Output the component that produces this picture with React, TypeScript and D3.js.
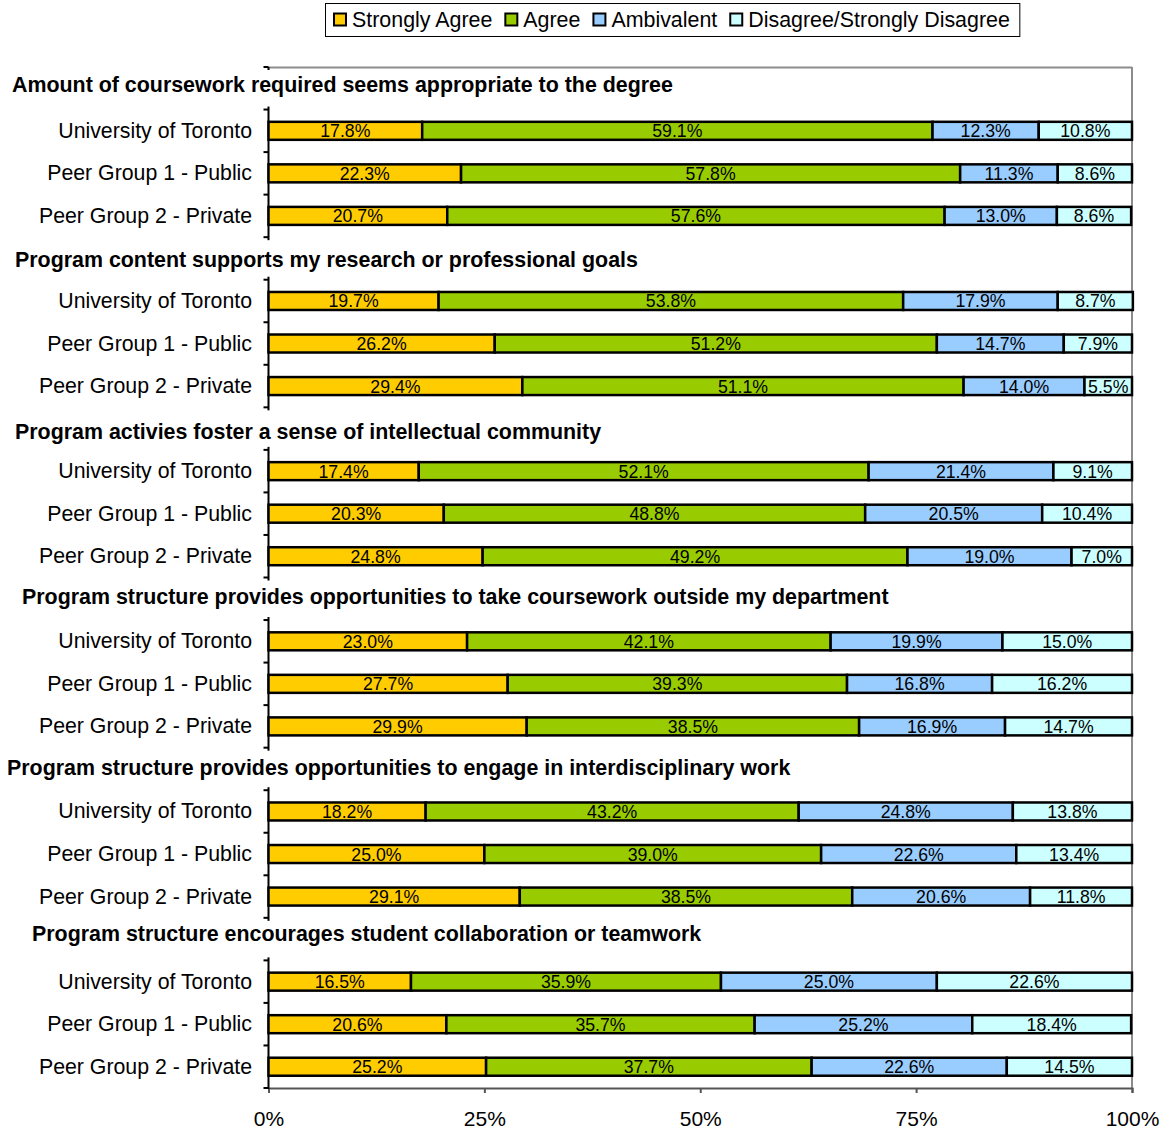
import React, { useEffect, useRef } from "react";
import * as d3 from "d3";

const seriesNames = ["Strongly Agree", "Agree", "Ambivalent", "Disagree/Strongly Disagree"];
const seriesColors = ["#FFCC00", "#99CC00", "#99CCFF", "#CCFFFF"];
const groupLabels = ["University of Toronto", "Peer Group 1 - Public", "Peer Group 2 - Private"];
const questions = [
  "Amount of coursework required seems appropriate to the degree",
  "Program content supports my research or professional goals",
  "Program activies foster a sense of intellectual community",
  "Program structure provides opportunities to take coursework outside my department",
  "Program structure provides opportunities to engage in interdisciplinary work",
  "Program structure encourages student collaboration or teamwork",
];
const q1 = [[17.8, 59.1, 12.3, 10.8], [22.3, 57.8, 11.3, 8.6], [20.7, 57.6, 13.0, 8.6]];
const q2 = [[19.7, 53.8, 17.9, 8.7], [26.2, 51.2, 14.7, 7.9], [29.4, 51.1, 14.0, 5.5]];
const q3 = [[17.4, 52.1, 21.4, 9.1], [20.3, 48.8, 20.5, 10.4], [24.8, 49.2, 19.0, 7.0]];
const q4 = [[23.0, 42.1, 19.9, 15.0], [27.7, 39.3, 16.8, 16.2], [29.9, 38.5, 16.9, 14.7]];
const q5 = [[18.2, 43.2, 24.8, 13.8], [25.0, 39.0, 22.6, 13.4], [29.1, 38.5, 20.6, 11.8]];
const q6 = [[16.5, 35.9, 25.0, 22.6], [20.6, 35.7, 25.2, 18.4], [25.2, 37.7, 22.6, 14.5]];
const questionValues = [q1, q2, q3, q4, q5, q6];
const xTicks = [0, 25, 50, 75, 100];

// layout of the title text boxes (x position, vertical nudge)
const titleLayout = [
  [12, -3], [15, 1.5], [15, 3], [22, -2], [7, -1], [32, -5],
];

const W = 1164;
const H = 1131;
const FONT = "'Liberation Sans', Arial, sans-serif";

export default function App() {
  const ref = useRef<SVGSVGElement>(null);

  useEffect(() => {
    const svg = d3.select(ref.current);
    svg.selectAll("*").remove();

    const x = d3.scaleLinear().domain([0, 100]).range([268.5, 1132]);
    const rowIds: string[] = [];
    questions.forEach((_, qi) => {
      rowIds.push(`t${qi}`);
      groupLabels.forEach((_, gi) => rowIds.push(`r${qi}_${gi}`));
    });
    const y = d3.scaleBand<string>().domain(rowIds).range([67, 1088]).padding(0);
    const step = y.step();
    const barH = 18;

    // plot border (top/right)
    svg.append("line").attr("x1", x(0)).attr("x2", x(100)).attr("y1", 67.5).attr("y2", 67.5)
      .attr("stroke", "#8c8c8c").attr("stroke-width", 2);
    svg.append("line").attr("x1", x(100)).attr("x2", x(100)).attr("y1", 67).attr("y2", 1088)
      .attr("stroke", "#8c8c8c").attr("stroke-width", 2);

    // bottom axis
    const xAxis = d3.axisBottom(x).tickValues(xTicks).tickFormat((d) => `${d}%`).tickSize(5).tickPadding(18);
    const gx = svg.append("g").attr("transform", `translate(0,1088)`).call(xAxis);
    gx.select(".domain").attr("stroke", "#555").attr("stroke-width", 2);
    gx.selectAll(".tick line").attr("stroke", "#555").attr("stroke-width", 2);
    gx.selectAll(".tick text").attr("font-family", FONT).attr("font-size", 21).attr("fill", "#000");

    // left axis
    svg.append("line").attr("x1", x(0)).attr("x2", x(0)).attr("y1", 67).attr("y2", 1089)
      .attr("stroke", "#000").attr("stroke-width", 2);
    for (let i = 0; i <= rowIds.length; i++) {
      const yy = 67 + i * step;
      svg.append("line").attr("x1", x(0) - 5).attr("x2", x(0)).attr("y1", yy).attr("y2", yy)
        .attr("stroke", "#000").attr("stroke-width", 2);
    }

    // bars
    questions.forEach((q, qi) => {
      questionValues[qi].forEach((vals, gi) => {
        const id = `r${qi}_${gi}`;
        const cy = (y(id) as number) + step / 2;
        svg.append("text").attr("x", 252).attr("y", cy).attr("text-anchor", "end")
          .attr("dominant-baseline", "central").attr("font-family", FONT).attr("font-size", 21.3)
          .attr("fill", "#000").text(groupLabels[gi]);
        let acc = 0;
        vals.forEach((v, si) => {
          const x0 = x(acc);
          const x1 = x(acc + v);
          acc += v;
          svg.append("rect").attr("x", x0).attr("y", cy - barH / 2).attr("width", x1 - x0).attr("height", barH)
            .attr("fill", seriesColors[si]).attr("stroke", "#000").attr("stroke-width", 2.5);
          svg.append("text").attr("x", (x0 + x1) / 2).attr("y", cy + 0.5).attr("text-anchor", "middle")
            .attr("dominant-baseline", "central").attr("font-family", FONT).attr("font-size", 17.7)
            .attr("fill", "#000").text(`${v.toFixed(1)}%`);
        });
      });
      // title
      const ty = (y(`t${qi}`) as number);
      const [tx, tdy] = titleLayout[qi];
      const g = svg.append("g");
      const bg = g.append("rect").attr("fill", "#fff");
      const t = g.append("text").attr("x", tx).attr("y", ty + step / 2 + tdy).attr("dominant-baseline", "central")
        .attr("font-family", FONT).attr("font-size", 21.4).attr("font-weight", "bold").attr("fill", "#000").text(q);
      const w = (t.node() as SVGTextElement).getComputedTextLength();
      bg.attr("x", tx - 2).attr("y", ty + 3).attr("width", w + 4).attr("height", step - 6);
    });

    // legend
    const lg = svg.append("g");
    const box = lg.append("rect").attr("y", 3.5).attr("height", 33).attr("fill", "#fff")
      .attr("stroke", "#000").attr("stroke-width", 1);
    let lx = 334;
    seriesNames.forEach((name, si) => {
      lg.append("rect").attr("x", lx).attr("y", 13.5).attr("width", 12).attr("height", 12)
        .attr("fill", seriesColors[si]).attr("stroke", "#000").attr("stroke-width", 2);
      const tt = lg.append("text").attr("x", lx + 18).attr("y", 20).attr("dominant-baseline", "central")
        .attr("font-family", FONT).attr("font-size", 21.4).attr("fill", "#000").text(name);
      const tw = (tt.node() as SVGTextElement).getComputedTextLength();
      lx = lx + 18 + tw + 13;
    });
    box.attr("x", 325.5).attr("width", lx - 13 + 10 - 325.5);
  }, []);

  return (
    <svg ref={ref} width={W} height={H} style={{ display: "block", position: "absolute", left: 0, top: 0, background: "#fff" }} />
  );
}
